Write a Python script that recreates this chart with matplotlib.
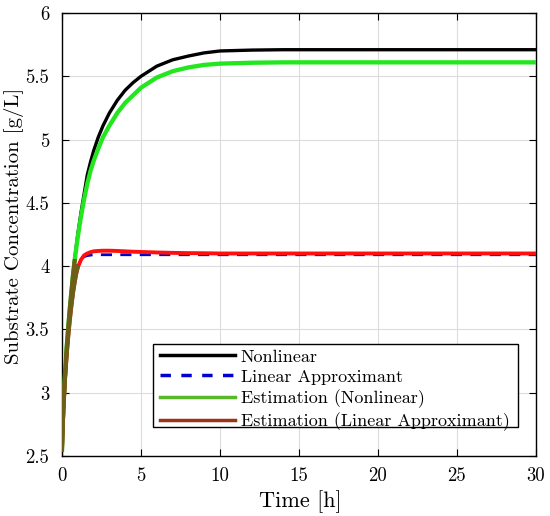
import matplotlib
matplotlib.use('Agg')
import matplotlib.pyplot as plt
from matplotlib.lines import Line2D
from matplotlib.patches import Rectangle
from matplotlib.ticker import FuncFormatter

# values
time_h = [0, 0.05, 0.1, 0.2, 0.3, 0.4, 0.5, 0.6, 0.7, 0.8, 0.9, 1.0, 1.2, 1.4, 1.6, 1.8,
          2.0, 2.3, 2.6, 3.0, 3.5, 4.0, 4.5, 5.0, 6.0, 7.0, 8.0, 9.0, 10.0, 12.0, 14.0,
          17.0, 20.0, 25.0, 30.0]
nonlinear = [2.55, 2.76, 2.92, 3.16, 3.36, 3.52, 3.67, 3.80, 3.93, 4.05, 4.15, 4.25, 4.42, 4.57,
             4.72, 4.82, 4.91, 5.02, 5.11, 5.21, 5.31, 5.39, 5.45, 5.50, 5.58, 5.63, 5.66, 5.685,
             5.70, 5.707, 5.71, 5.71, 5.71, 5.71, 5.71]
linear_approx = [2.55, 2.75, 2.90, 3.13, 3.32, 3.48, 3.62, 3.74, 3.84, 3.93, 3.99, 4.03, 4.06, 4.075,
                 4.083, 4.087, 4.09, 4.09, 4.09, 4.09, 4.09, 4.09, 4.09, 4.09, 4.09, 4.09, 4.09,
                 4.09, 4.09, 4.09, 4.09, 4.09, 4.09, 4.09, 4.09]
est_nonlinear = [2.55, 2.76, 2.92, 3.16, 3.36, 3.52, 3.67, 3.80, 3.93, 4.04, 4.14, 4.23, 4.39, 4.53,
                 4.65, 4.75, 4.83, 4.93, 5.02, 5.11, 5.21, 5.29, 5.35, 5.41, 5.49, 5.54, 5.57, 5.59,
                 5.60, 5.607, 5.61, 5.61, 5.61, 5.61, 5.61]
est_linear = [2.55, 2.74, 2.89, 3.12, 3.30, 3.45, 3.58, 3.69, 3.79, 3.87, 3.94, 3.99, 4.05, 4.085,
              4.10, 4.11, 4.117, 4.12, 4.122, 4.122, 4.12, 4.117, 4.114, 4.112, 4.108, 4.105,
              4.103, 4.102, 4.10, 4.10, 4.10, 4.10, 4.10, 4.10, 4.10]
legend_labels = ['Nonlinear', 'Linear Approximant', 'Estimation (Nonlinear)',
                 'Estimation (Linear Approximant)']

plt.rcParams['font.family'] = 'cmr10'
plt.rcParams['mathtext.fontset'] = 'cm'
plt.rcParams['axes.formatter.use_mathtext'] = True

fig = plt.figure(figsize=(5.5, 5.16), dpi=100)
ax = fig.add_axes([0.1127, 0.1163, 0.8618, 0.8585])

ax.plot(time_h, nonlinear, color='black', lw=2.4, zorder=3)
ax.plot(time_h, linear_approx, color='#0000d0', lw=2.0, ls=(0, (4, 3)), zorder=3)
ax.plot(time_h, est_nonlinear, color='#22e61e', lw=3.1, zorder=4)
ax.plot(time_h, est_linear, color='#ff1010', lw=2.8, zorder=5)
# early part of both estimates looks olive in the reference
ax.plot(time_h[:10], est_nonlinear[:10], color='#6e5f18', lw=3.0, zorder=6)
ax.plot(time_h[:12], est_linear[:12], color='#6e5f18', lw=2.8, zorder=6)

ax.set_xlim(0, 30)
ax.set_ylim(2.5, 6)
ax.set_xticks(range(0, 31, 5))
ax.set_yticks([2.5, 3, 3.5, 4, 4.5, 5, 5.5, 6])
ax.yaxis.set_major_formatter(FuncFormatter(lambda v, p: '%g' % v))
ax.xaxis.set_major_formatter(FuncFormatter(lambda v, p: '%g' % v))
ax.tick_params(direction='in', top=True, right=True, length=5, width=0.8, labelsize=13.5)
ax.tick_params(axis='y', pad=9)
ax.tick_params(axis='x', pad=8)
ax.grid(True, color='#dcdcdc', lw=0.8)
ax.set_axisbelow(True)
for s in ax.spines.values():
    s.set_linewidth(1.0)

ax.set_xlabel('Time [h]', fontsize=16)
ax.set_ylabel('Substrate Concentration [g/L]', fontsize=15)
ax.xaxis.set_label_coords(0.502, -0.077)
ax.yaxis.set_label_coords(-0.081, 0.52)

# legend box drawn by hand (wider side padding than top/bottom, as in the reference)
ax.add_patch(Rectangle((0.192, 0.0655), 0.770, 0.187, transform=ax.transAxes,
                       facecolor='white', edgecolor='black', lw=1.0, zorder=7))
handles = [Line2D([], [], color='black', lw=2.5),
           Line2D([], [], color='#0000d0', lw=2.5, ls=(0, (3, 3))),
           Line2D([], [], color='#58b82a', lw=2.5),
           Line2D([], [], color='#9b3412', lw=2.5)]
leg = ax.legend(handles, legend_labels, loc='lower right', bbox_to_anchor=(0.949, 0.051),
                fontsize=13, handlelength=4.15, handletextpad=0.3, labelspacing=0.25,
                borderpad=0.12, borderaxespad=0, frameon=False)
leg.set_zorder(8)

fig.savefig('out.png', dpi=100)
